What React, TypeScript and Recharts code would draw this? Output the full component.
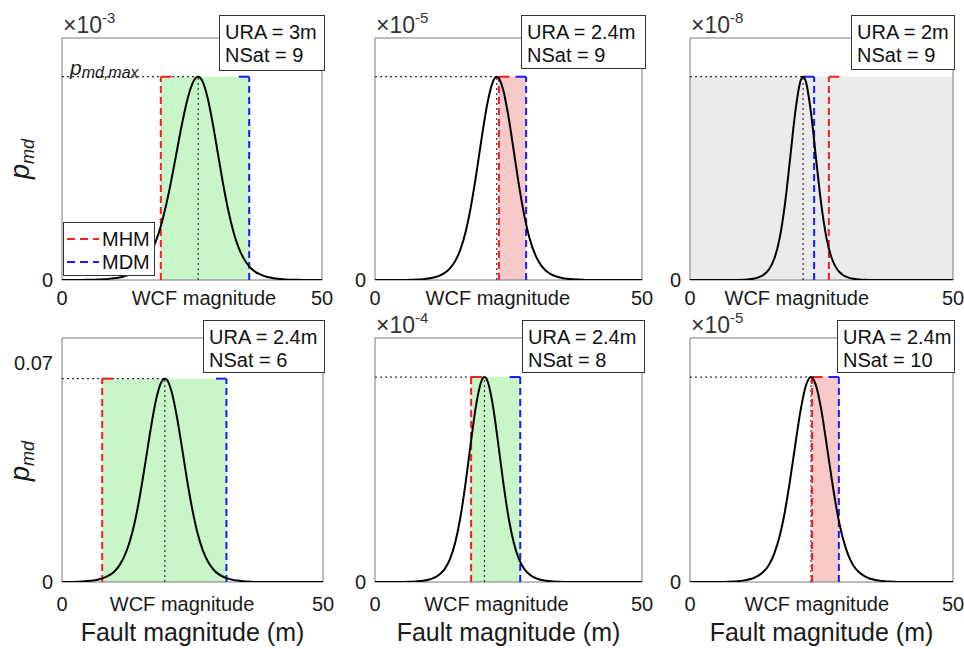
import React from 'react';
import { ComposedChart, Line, XAxis, YAxis, ReferenceArea, ReferenceLine } from 'recharts';

const FONT = '"Liberation Sans", Arial, Helvetica, sans-serif';

// p_md curves; values are in units of each panel's x10^-n factor
const MAG_A = [0, 3, 4, 5, 6, 7, 8, 9, 10, 11, 12, 13, 14, 15, 16, 17, 18, 19, 20, 21, 22, 23, 24, 25, 26, 26.2, 27, 28, 29, 30, 31, 32, 33, 34, 35, 36, 37, 38, 39, 40, 41, 42, 43, 44, 45, 46, 50];
const PMD_A = [0, 0.002, 0.003, 0.005, 0.009, 0.014, 0.023, 0.035, 0.053, 0.079, 0.118, 0.175, 0.255, 0.372, 0.554, 0.815, 1.179, 1.666, 2.307, 3.071, 3.92, 4.772, 5.516, 6.056, 6.293, 6.3, 6.163, 5.648, 4.842, 3.9, 2.964, 2.137, 1.475, 0.99, 0.651, 0.425, 0.273, 0.18, 0.117, 0.075, 0.048, 0.03, 0.018, 0.01, 0.006, 0.003, 0];

const MAG_B = [0, 6, 7, 8, 9, 10, 11, 12, 13, 14, 15, 16, 17, 18, 19, 20, 21, 22, 22.8, 23, 24, 25, 26, 27, 28, 29, 30, 31, 32, 33, 34, 35, 36, 37, 38, 39, 40, 50];
const PMD_B = [0, 0, 0.005, 0.01, 0.018, 0.031, 0.052, 0.086, 0.143, 0.236, 0.39, 0.631, 1.009, 1.542, 2.212, 2.951, 3.623, 4.074, 4.2, 4.192, 3.932, 3.372, 2.655, 1.93, 1.31, 0.839, 0.524, 0.318, 0.193, 0.118, 0.071, 0.042, 0.025, 0.014, 0.008, 0.004, 0, 0];

const MAG_C = [0, 9, 10, 11, 12, 13, 14, 15, 16, 17, 18, 19, 20, 21, 21.5, 22, 23, 24, 25, 26, 27, 28, 29, 30, 31, 32, 33, 34, 50];
const PMD_C = [0, 0, 0.003, 0.006, 0.013, 0.027, 0.055, 0.109, 0.217, 0.42, 0.763, 1.236, 1.729, 2.054, 2.1, 2.054, 1.729, 1.236, 0.763, 0.42, 0.217, 0.109, 0.055, 0.027, 0.013, 0.006, 0.003, 0, 0];

const MAG_D = [0, 2, 3, 4, 5, 6, 7, 8, 9, 10, 11, 12, 13, 14, 15, 16, 17, 18, 19, 19.7, 20, 21, 22, 23, 24, 25, 26, 27, 28, 29, 30, 31, 32, 33, 34, 35, 36, 37, 50];
const PMD_D = [0, 0, 0.0001, 0.0002, 0.0003, 0.0005, 0.0008, 0.0013, 0.0021, 0.0033, 0.0053, 0.0084, 0.013, 0.0196, 0.0283, 0.0385, 0.049, 0.0581, 0.0638, 0.065, 0.0648, 0.0608, 0.0529, 0.0428, 0.0322, 0.0229, 0.0154, 0.01, 0.0064, 0.004, 0.0025, 0.0016, 0.001, 0.0006, 0.0004, 0.0002, 0.0001, 0, 0];

const MAG_E = [0, 5, 6, 7, 8, 9, 10, 11, 12, 13, 14, 15, 16, 17, 18, 19, 20, 20.5, 21, 22, 23, 24, 25, 26, 27, 28, 29, 30, 31, 32, 33, 34, 35, 36, 50];
const PMD_E = [0, 0, 0.003, 0.006, 0.013, 0.025, 0.046, 0.083, 0.147, 0.258, 0.457, 0.8, 1.327, 2.056, 2.898, 3.668, 4.137, 4.2, 4.137, 3.668, 2.898, 2.056, 1.327, 0.8, 0.457, 0.258, 0.147, 0.083, 0.046, 0.025, 0.013, 0.006, 0.003, 0, 0];

const MAG_F = [0, 6, 7, 8, 9, 10, 11, 12, 13, 14, 15, 16, 17, 18, 19, 20, 21, 22, 23, 24, 25, 26, 27, 28, 29, 30, 31, 32, 33, 34, 35, 36, 37, 38, 39, 40, 50];
const PMD_F = [0, 0, 0.002, 0.004, 0.008, 0.014, 0.024, 0.039, 0.065, 0.107, 0.175, 0.289, 0.461, 0.71, 1.035, 1.401, 1.751, 2.005, 2.1, 2.005, 1.751, 1.401, 1.035, 0.71, 0.461, 0.289, 0.175, 0.107, 0.065, 0.039, 0.024, 0.014, 0.008, 0.004, 0.002, 0, 0];

const WCF_PEAK = [26.2, 22.8, 21.5, 19.7, 20.5, 23.0];
const PEAK_PMD = [6.3, 4.2, 2.1, 0.065, 4.2, 2.1];
const MHM = [19.0, 23.2, 26.4, 7.7, 18.0, 23.2];
const MDM = [36.0, 28.3, 23.6, 31.5, 27.2, 28.3];
const WCF_LABEL_AT = [27.3, 23.0, 20.3, 23.0, 22.75, 24.1];
const Y_MAX = [7.5, 5, 2.5, 0.078, 5, 2.5];
const Y_TICKS = [[0], [0], [0], [0, 0.07], [0], [0]];
const EXPONENT = ['-3', '-5', '-8', '', '-4', '-5'];
const URA = ['3m', '2.4m', '2m', '2.4m', '2.4m', '2.4m'];
const NSAT = [9, 9, 9, 6, 8, 10];
const SHADE = ['green', 'red', 'gray', 'green', 'green', 'red'];

const CURVES = [
  [MAG_A, PMD_A], [MAG_B, PMD_B], [MAG_C, PMD_C],
  [MAG_D, PMD_D], [MAG_E, PMD_E], [MAG_F, PMD_F],
];

const SHADE_FILL: Record<string, string> = { green: '#c9f6c9', red: '#f7c9c9', gray: '#ebebeb' };

// plot areas in page pixels
const LAYOUT = [
  { left: 62, top: 38, w: 260, h: 242 },
  { left: 375, top: 38, w: 267, h: 242 },
  { left: 690, top: 38, w: 263, h: 242 },
  { left: 62, top: 338, w: 261, h: 244 },
  { left: 375, top: 338, w: 267, h: 244 },
  { left: 690, top: 338, w: 263, h: 244 },
];
const INFO_BOX = [
  { left: 219, top: 15, w: 106, h: 56 },
  { left: 521, top: 15, w: 125, h: 54 },
  { left: 851, top: 15, w: 104, h: 55 },
  { left: 203, top: 320, w: 122, h: 53 },
  { left: 522, top: 320, w: 123, h: 53 },
  { left: 837, top: 320, w: 118, h: 53 },
];

const ML = 60, MT = 45, MR = 45, XH = 50;

function Panel({ i }: { i: number }) {
  const box = LAYOUT[i];
  const [mag, pmd] = CURVES[i];
  const data = mag.map((x, k) => ({ x, p: pmd[k] }));
  const peak = PEAK_PMD[i];
  const row = i < 3 ? 0 : 1;
  const dashed = { strokeWidth: 2, strokeDasharray: '7 4' };
  const dotted = { stroke: '#333', strokeWidth: 1.2, strokeDasharray: '2 3' };
  return (
    <div style={{ position: 'absolute', left: box.left - ML, top: box.top - MT }}>
      <ComposedChart width={box.w + ML + MR} height={box.h + MT + XH} data={data}
        margin={{ top: MT, right: MR, left: 0, bottom: 0 }}>
        <XAxis type="number" dataKey="x" domain={[0, 50]} allowDataOverflow
          ticks={[0, WCF_LABEL_AT[i], 50]} interval={0}
          tickFormatter={(v: number) => (v === 0 ? '0' : v === 50 ? '50' : 'WCF magnitude')}
          axisLine={false} tickLine={false} tickSize={4} tickMargin={row === 0 ? 7 : 11} height={XH}
          tick={{ fontSize: 20, fill: '#1a1a1a', fontFamily: FONT }} />
        <YAxis type="number" domain={[0, Y_MAX[i]]} allowDataOverflow ticks={Y_TICKS[i]} interval={0}
          tickFormatter={(v: number) => (v === 0 ? '0' : String(v))}
          axisLine={false} tickLine={false} tickSize={4} tickMargin={5} width={ML}
          tick={{ fontSize: 20, fill: '#1a1a1a', fontFamily: FONT }} />
        {SHADE[i] === 'gray' ? (
          <ReferenceArea x1={0} x2={50} y1={0} y2={peak} fill={SHADE_FILL.gray} fillOpacity={1} stroke="none" />
        ) : (
          <ReferenceArea x1={Math.min(MHM[i], MDM[i])} x2={Math.max(MHM[i], MDM[i])} y1={0} y2={peak}
            fill={SHADE_FILL[SHADE[i]]} fillOpacity={1} stroke="none" />
        )}
        <ReferenceLine segment={[{ x: 0, y: peak }, { x: WCF_PEAK[i], y: peak }]} {...dotted} />
        <ReferenceLine segment={[{ x: WCF_PEAK[i], y: 0 }, { x: WCF_PEAK[i], y: peak }]} {...dotted} />
        <ReferenceLine segment={[{ x: MHM[i], y: 0 }, { x: MHM[i], y: peak }]} stroke="#ff1a1a" {...dashed} />
        <ReferenceLine segment={[{ x: MHM[i], y: peak }, { x: MHM[i] + 2, y: peak }]} stroke="#ff1a1a" strokeWidth={2} />
        <ReferenceLine segment={[{ x: MDM[i], y: 0 }, { x: MDM[i], y: peak }]} stroke="#1a1aff" {...dashed} />
        <ReferenceLine segment={[{ x: MDM[i] - 2, y: peak }, { x: MDM[i], y: peak }]} stroke="#1a1aff" strokeWidth={2} />
        <Line type="monotone" dataKey="p" stroke="#000" strokeWidth={2} dot={false} isAnimationActive={false} />
        <ReferenceArea x1={0} x2={50} y1={0} y2={Y_MAX[i]} fill="none" stroke="#7a7a7a" strokeWidth={1} />
      </ComposedChart>
    </div>
  );
}

function Pmd({ cx, cy }: { cx: number; cy: number }) {
  return (
    <div style={{
      position: 'absolute', left: cx, top: cy, transform: 'translate(-50%, -50%) rotate(-90deg)',
      fontFamily: FONT, fontStyle: 'italic', whiteSpace: 'nowrap', lineHeight: '28px', color: '#1a1a1a',
    }}>
      <span style={{ fontSize: 27 }}>p</span>
      <span style={{ fontSize: 18, position: 'relative', top: 5 }}>md</span>
    </div>
  );
}

export default function App() {
  return (
    <div style={{ position: 'absolute', left: 0, top: 0, width: 964, height: 649, background: '#fff', overflow: 'hidden' }}>
      {LAYOUT.map((_, i) => <Panel key={i} i={i} />)}

      {EXPONENT.map((e, i) => e ? (
        <div key={'exp' + i} style={{
          position: 'absolute', left: LAYOUT[i].left + 1, top: LAYOUT[i].top - 24,
          fontFamily: FONT, fontSize: 23, lineHeight: '23px', color: '#333', whiteSpace: 'nowrap',
        }}>
          ×10<span style={{ fontSize: 15, position: 'relative', top: -10 }}>{e}</span>
        </div>
      ) : null)}

      {INFO_BOX.map((b, i) => (
        <div key={'info' + i} style={{
          position: 'absolute', left: b.left, top: b.top, width: b.w, height: b.h, boxSizing: 'border-box',
          border: '1px solid #333', background: '#fff', fontFamily: FONT, fontSize: 20, lineHeight: '23px',
          padding: '5px 0 0 5px', color: '#111', whiteSpace: 'nowrap',
        }}>
          <div>URA = {URA[i]}</div>
          <div>NSat = {NSAT[i]}</div>
        </div>
      ))}

      {/* p_md,max annotation */}
      <div style={{
        position: 'absolute', left: 70, top: 58, fontFamily: FONT, fontStyle: 'italic',
        lineHeight: '20px', color: '#1a1a1a', whiteSpace: 'nowrap',
      }}>
        <span style={{ fontSize: 21 }}>p</span>
        <span style={{ fontSize: 16, position: 'relative', top: 3 }}>md,max</span>
      </div>

      {/* legend */}
      <div style={{
        position: 'absolute', left: 63, top: 222, width: 92, height: 54, boxSizing: 'border-box',
        border: '1px solid #333', background: '#fff', fontFamily: FONT, fontSize: 20, color: '#111',
      }}>
        {[['MHM', '#ff1a1a'], ['MDM', '#1a1aff']].map(([name, c], k) => (
          <div key={name} style={{ position: 'absolute', left: 3, top: 5 + k * 23, height: 22, display: 'flex', alignItems: 'center' }}>
            <svg width={32} height={4} style={{ marginRight: 3 }}>
              <line x1={0} y1={2} x2={32} y2={2} stroke={c} strokeWidth={2} strokeDasharray="8 5" />
            </svg>
            <span style={{ lineHeight: '22px' }}>{name}</span>
          </div>
        ))}
      </div>

      <Pmd cx={22} cy={159} />
      <Pmd cx={22} cy={461} />

      {[3, 4, 5].map((i) => (
        <div key={'xl' + i} style={{
          position: 'absolute', left: LAYOUT[i].left - 40, width: LAYOUT[i].w + 80, top: 620,
          textAlign: 'center', fontFamily: FONT, fontSize: 25, lineHeight: '25px', color: '#1a1a1a', whiteSpace: 'nowrap',
        }}>
          Fault magnitude (m)
        </div>
      ))}
    </div>
  );
}
